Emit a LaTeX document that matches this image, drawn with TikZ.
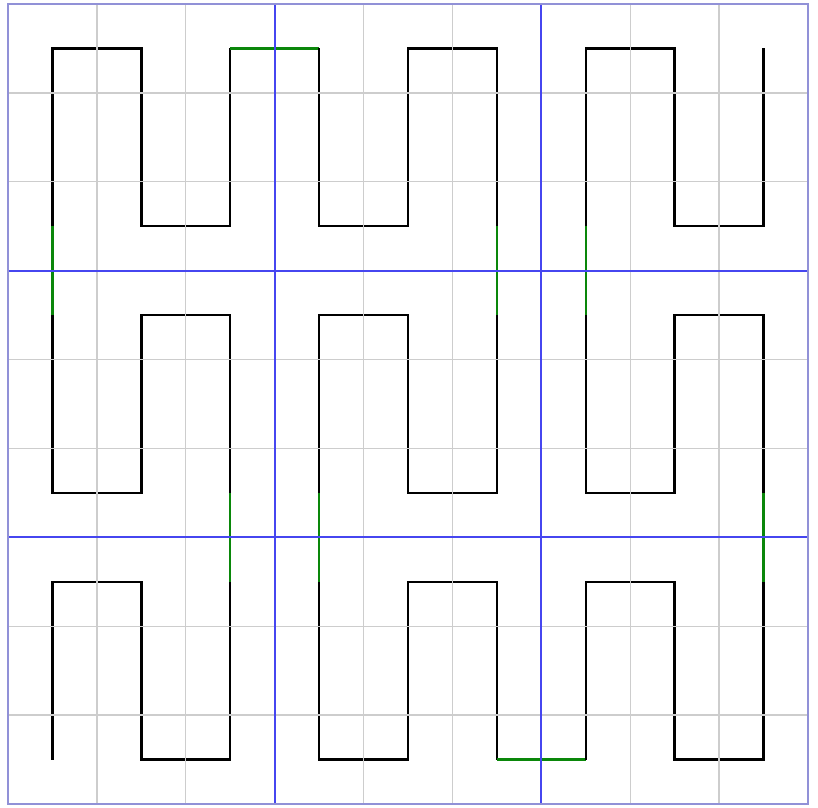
\documentclass[tikz,border=0pt]{standalone}
\usepackage{tikz}
\definecolor{gridgray}{RGB}{205,205,205}
\definecolor{blockblue}{RGB}{70,70,240}
\definecolor{framecol}{RGB}{145,145,215}
\definecolor{linkgreen}{RGB}{10,135,10}
\tikzset{
  curve/.style={black,line width=0.75pt,line join=miter},
  link/.style={linkgreen,line width=0.7pt},
  gridline/.style={gridgray,line width=0.45pt},
  blockline/.style={blockblue,line width=0.7pt},
  frame/.style={framecol,line width=0.7pt}
}
\begin{document}
\begin{tikzpicture}[x=1cm,y=1cm]
\useasboundingbox (-0.09,-0.045) rectangle (9.1125,9.045);
% curve blocks (cell centres at i+0.5)
\begin{scope}[shift={(0.5,0.5)}]
\draw[curve] (0,0)--(0,2)--(1,2)--(1,0)--(2,0)--(2,2);
\draw[link] (2,2)--(2,3);
\draw[curve] (2,3)--(2,5)--(1,5)--(1,3)--(0,3)--(0,5);
\draw[link] (0,5)--(0,6);
\draw[curve] (0,6)--(0,8)--(1,8)--(1,6)--(2,6)--(2,8);
\draw[link] (2,8)--(3,8);
\draw[curve] (3,8)--(3,6)--(4,6)--(4,8)--(5,8)--(5,6);
\draw[link] (5,6)--(5,5);
\draw[curve] (5,5)--(5,3)--(4,3)--(4,5)--(3,5)--(3,3);
\draw[link] (3,3)--(3,2);
\draw[curve] (3,2)--(3,0)--(4,0)--(4,2)--(5,2)--(5,0);
\draw[link] (5,0)--(6,0);
\draw[curve] (6,0)--(6,2)--(7,2)--(7,0)--(8,0)--(8,2);
\draw[link] (8,2)--(8,3);
\draw[curve] (8,3)--(8,5)--(7,5)--(7,3)--(6,3)--(6,5);
\draw[link] (6,5)--(6,6);
\draw[curve] (6,6)--(6,8)--(7,8)--(7,6)--(8,6)--(8,8);
\end{scope}
% grid over the curve
\foreach \i in {1,2,4,5,7,8} {
  \draw[gridline] (\i,0)--(\i,9);
  \draw[gridline] (0,\i)--(9,\i);
}
\foreach \i in {3,6} {
  \draw[blockline] (\i,0)--(\i,9);
  \draw[blockline] (0,\i)--(9,\i);
}
\draw[frame] (0,0) rectangle (9,9);
\end{tikzpicture}
\end{document}
